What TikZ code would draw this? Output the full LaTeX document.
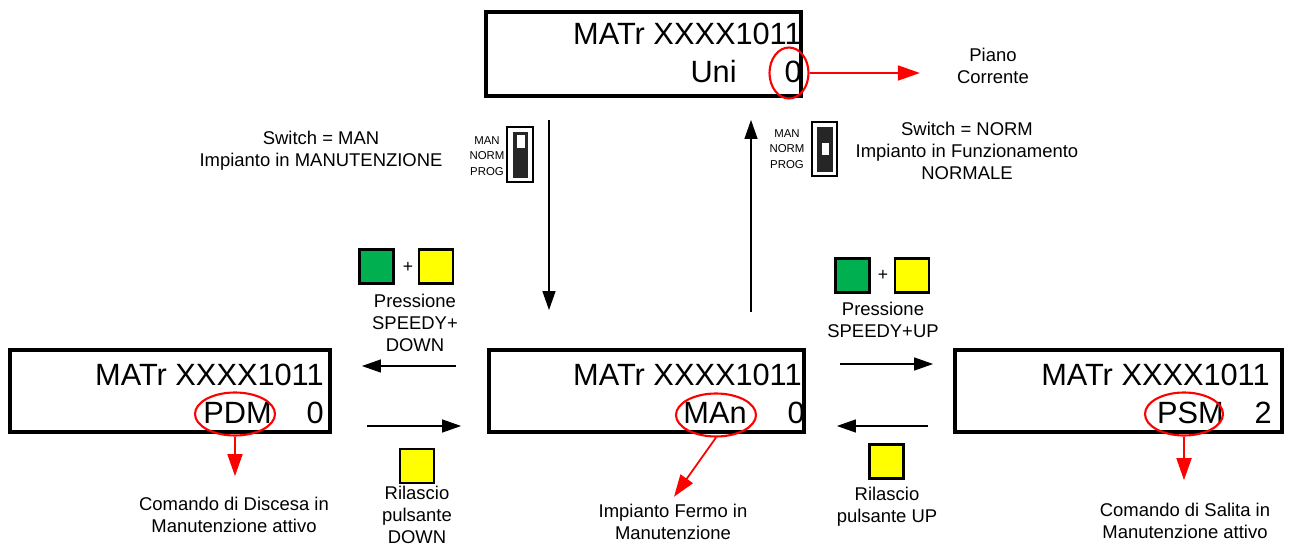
\documentclass[tikz,border=0pt]{standalone}
\usepackage{fontspec}
\setmainfont{Liberation Sans}
\usetikzlibrary{positioning, arrows.meta, shapes.geometric}
\definecolor{btngreen}{RGB}{0, 176, 80}
\definecolor{btnyellow}{RGB}{255, 255, 0}
\definecolor{ringred}{RGB}{255, 0, 0}
\definecolor{switchdark}{RGB}{38, 38, 38}

\begin{document}
\begin{tikzpicture}[
    x=0.02cm, y=-0.02cm,
    >={Triangle[length=0.38cm, width=0.26cm]},
    lcdbox/.style={draw, line width=2.2pt, minimum height=1.64cm, inner sep=0pt},
    lcdtext/.style={font=\fontsize{17.5}{20}\selectfont, anchor=base east, inner sep=0pt},
    ring/.style={draw=ringred, ellipse, line width=1.2pt, inner sep=0pt},
    redarrow/.style={->, ringred, line width=1pt,
        >={Triangle[length=0.44cm, width=0.3cm]}},
    flow/.style={->, line width=0.7pt},
    caption/.style={font=\fontsize{10.5}{12.4}\selectfont, align=center},
    swlabel/.style={font=\fontsize{6.5}{8.8}\selectfont, align=center, inner sep=0pt},
    btn/.style={draw, line width=1.3pt, minimum size=0.68cm, inner sep=0pt},
]

\useasboundingbox (0,0) rectangle (1292,547);

% --- Displays ---
\node[lcdbox, minimum width=6.3cm, minimum height=1.68cm] (top) at (643.5,54) {};
\node[lcdbox, minimum width=6.4cm]  (pdm) at (170,391) {};
\node[lcdbox, minimum width=6.3cm]  (mid) at (646.5,391) {};
\node[lcdbox, minimum width=6.54cm] (psm) at (1118.5,391) {};

% --- Display texts ---
\node[lcdtext] (topid)    at (802,45) {MATr XXXX1011};
\node[lcdtext] (topmode)  at (737,83) {Uni};
\node[lcdtext] (topfloor) at (802,83) {0};

\node[lcdtext] (pdmid)    at (324,385) {MATr XXXX1011};
\node[lcdtext] (pdmmode)  at (272,423) {PDM};
\node[lcdtext] (pdmfloor) at (324,423) {0};

\node[lcdtext] (midid)    at (802,385) {MATr XXXX1011};
\node[lcdtext] (midmode)  at (747,423) {MAn};
\node[lcdtext] (midfloor) at (805,423) {0};

\node[lcdtext] (psmid)    at (1270,385) {MATr XXXX1011};
\node[lcdtext] (psmmode)  at (1224,423) {PSM};
\node[lcdtext] (psmfloor) at (1272,423) {2};

% --- Red marks ---
\node[ring, minimum width=0.78cm, minimum height=1.02cm] (topring) at (789,73) {};
\node[ring, minimum width=1.6cm, minimum height=0.86cm]  (pdmring) at (235,414) {};
\node[ring, minimum width=1.6cm, minimum height=0.86cm]  (midring) at (716,415) {};
\node[ring, minimum width=1.56cm, minimum height=0.86cm] (psmring) at (1184,414) {};

% --- Captions ---
\node[caption] (piano)   at (993,66)  {Piano\\Corrente};
\node[caption] (discesa) at (234,515) {Comando di Discesa in\\Manutenzione attivo};
\node[caption] (fermo)   at (673,522) {Impianto Fermo in\\Manutenzione};
\node[caption] (salita)  at (1185,521) {Comando di Salita in\\Manutenzione attivo};

\draw[redarrow, shorten >=0.62cm] (topring.east) -- (topring.east -| piano.west);
\draw[redarrow, shorten >=0.3cm] (pdmring.south) -- (pdmring.south |- discesa.north);
\draw[redarrow, shorten >=1pt] (midring.south) -- (fermo.north);
\draw[redarrow, shorten >=0.34cm] (psmring.south) -- (psmring.south |- salita.north);

% --- Switches ---
\node[caption] (swman)  at (321,151) {Switch = MAN\\Impianto in MANUTENZIONE};
\node[swlabel] (swmanpos) at (487,156) {MAN\\NORM\\PROG};
\draw[line width=0.6pt] (507,127) rectangle (533,182);
\fill[switchdark] (513,132) rectangle (528,178);
\fill[white] (517,135) rectangle (525,148);

\node[caption] (swnorm) at (967,151) {Switch = NORM\\Impianto in Funzionamento\\NORMALE};
\node[swlabel] (swnormpos) at (787,149) {MAN\\NORM\\PROG};
\draw[line width=0.6pt] (812,122) rectangle (837,176);
\fill[switchdark] (817,127) rectangle (833,172);
\fill[white] (822,143) rectangle (829,155);

\coordinate (manx)  at (549,0);
\coordinate (normx) at (751,0);
\draw[flow, shorten <=0.44cm, shorten >=0.76cm] (top.south -| manx) -- (mid.north -| manx);
\draw[flow, shorten <=0.72cm, shorten >=0.44cm] (mid.north -| normx) -- (top.south -| normx);

% --- Buttons ---
\node[btn, fill=btngreen]  (downgreen)  at (376.5,266.5) {};
\node (downplus) at (408,267) {+};
\node[btn, fill=btnyellow] (downyellow) at (436,266.5) {};
\node[caption] (downpress) at (415,323) {Pressione\\SPEEDY+\\DOWN};

\node[btn, fill=btngreen]  (upgreen)  at (852.5,275.5) {};
\node (upplus) at (883,275) {+};
\node[btn, fill=btnyellow] (upyellow) at (912,275.5) {};
\node[caption] (uppress) at (883,320) {Pressione\\SPEEDY+UP};

\node[btn, fill=btnyellow] (downrel) at (417,466) {};
\node[caption] (downrellbl) at (417,515) {Rilascio\\pulsante\\DOWN};

\node[btn, fill=btnyellow] (uprel) at (886.5,461.5) {};
\node[caption] (uprellbl) at (887,507) {Rilascio\\pulsante UP};

% --- Transitions ---
\draw[flow, shorten <=0.62cm, shorten >=0.6cm] ([yshift=0.5cm]mid.west) -- ([yshift=0.5cm]pdm.east);
\draw[flow, shorten <=0.7cm, shorten >=0.52cm] ([yshift=-0.7cm]pdm.east) -- ([yshift=-0.7cm]mid.west);
\draw[flow, shorten <=0.68cm, shorten >=0.4cm] ([yshift=0.54cm]mid.east) -- ([yshift=0.54cm]psm.west);
\draw[flow, shorten <=0.5cm, shorten >=0.62cm] ([yshift=-0.7cm]psm.west) -- ([yshift=-0.7cm]mid.east);

\end{tikzpicture}
\end{document}
